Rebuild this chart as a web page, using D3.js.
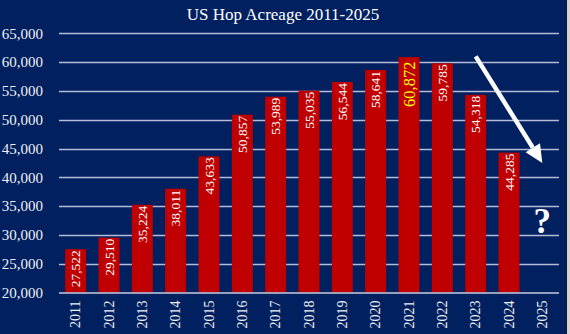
<!DOCTYPE html>
<html><head><meta charset="utf-8">
<script src="https://cdn.jsdelivr.net/npm/d3@7"></script>
<style>body{margin:0;background:#002060;}svg{display:block;}</style>
</head><body>
<svg id="c" width="570" height="334"></svg>
<script>
const years = ["2011","2012","2013","2014","2015","2016","2017","2018","2019","2020","2021","2022","2023","2024","2025"];
const acres = [27522,29510,35224,38011,43633,50857,53989,55035,56544,58641,60872,59785,54318,44285,null];
const labels = ["27,522","29,510","35,224","38,011","43,633","50,857","53,989","55,035","56,544","58,641","60,872","59,785","54,318","44,285",""];
const yTicks = [20000,25000,30000,35000,40000,45000,50000,55000,60000,65000];
const highlightYear = "2021";
const arrowFrom = {year:"2023", value:61000};
const arrowTo = {year:"2025", value:42500};
const title = "US Hop Acreage 2011-2025";

const svg = d3.select("#c");
const W = 570, H = 334;
const m = {left:59, right:11, top:33.3, bottom:41.5};
svg.append("rect").attr("width",W).attr("height",H).attr("fill","#002060");
// right-edge strip
svg.append("rect").attr("x",566.5).attr("y",0).attr("width",4).attr("height",H).attr("fill","#d4d4d4");
svg.append("line").attr("x1",566.5).attr("x2",566.5).attr("y1",0).attr("y2",H).attr("stroke","#1a1a1a").attr("stroke-width",1);

const x = d3.scaleBand().domain(years).range([m.left, W-m.right]).paddingInner(0.37).paddingOuter(0.185);
const y = d3.scaleLinear().domain([20000,65000]).range([H-m.bottom, m.top]);
const serif = "'Liberation Serif','Times New Roman',serif";

// gridlines
svg.append("g").selectAll("line").data(yTicks.slice(1)).join("line")
  .attr("x1",m.left).attr("x2",W-m.right)
  .attr("y1",d=>Math.round(y(d))+0.5).attr("y2",d=>Math.round(y(d))+0.5)
  .attr("stroke","#b4bcd6").attr("stroke-width",1.3);

// y axis
const ya = svg.append("g").attr("transform",`translate(${m.left},0)`)
  .call(d3.axisLeft(y).tickValues(yTicks).tickSize(0).tickPadding(16).tickFormat(d3.format(",")));
ya.select(".domain").remove();
ya.selectAll("text").attr("font-family",serif).attr("font-size",15).attr("fill","#f0f0f4");

// bars
const bd = years.map((yr,i)=>({yr, v:acres[i], lab:labels[i]})).filter(d=>d.v!=null);
svg.append("g").selectAll("rect").data(bd).join("rect")
  .attr("x",d=>x(d.yr)).attr("width",x.bandwidth())
  .attr("y",d=>y(d.v)).attr("height",d=>y(20000)-y(d.v))
  .attr("fill","#c00000");

// baseline
svg.append("line").attr("x1",m.left).attr("x2",W-m.right)
  .attr("y1",y(20000)+0.5).attr("y2",y(20000)+0.5).attr("stroke","#c8cde0").attr("stroke-width",1.3);

// x axis
const xa = svg.append("g").attr("transform",`translate(0,${y(20000)})`)
  .call(d3.axisBottom(x).tickSize(0).tickPadding(0));
xa.select(".domain").remove();
xa.selectAll("text").attr("font-family",serif).attr("font-size",14).attr("fill","#f0f0f4")
  .attr("text-anchor","end").attr("dy",null).attr("y",0)
  .attr("transform","translate(0,8) rotate(-90)").attr("dominant-baseline","central");

// value labels
svg.append("g").selectAll("text").data(bd).join("text")
  .attr("transform",d=>`translate(${x(d.yr)+x.bandwidth()/2},${y(d.v)+(d.yr===highlightYear?4.5:1)}) rotate(-90)`)
  .attr("text-anchor","end").attr("dominant-baseline","central")
  .attr("font-family",serif)
  .attr("font-size",d=>d.yr===highlightYear?16.5:13.5)
  .attr("fill",d=>d.yr===highlightYear?"#ffff00":"#ffffff")
  .text(d=>d.lab);

// title
svg.append("text").attr("x",283).attr("y",20).attr("text-anchor","middle")
  .attr("font-family",serif).attr("font-size",17).attr("fill","#ffffff").text(title);

// arrow
const cx = yr => x(yr)+x.bandwidth()/2;
const x1 = cx(arrowFrom.year), y1 = y(arrowFrom.value), x2 = cx(arrowTo.year), y2 = y(arrowTo.value);
const ang = Math.atan2(y2-y1, x2-x1);
const headL = 18, headW = 8.5;
const bx = x2 - headL*Math.cos(ang), by = y2 - headL*Math.sin(ang);
svg.append("line").attr("x1",x1).attr("y1",y1).attr("x2",bx).attr("y2",by)
  .attr("stroke","#ffffff").attr("stroke-width",4.5);
const px = -Math.sin(ang), py = Math.cos(ang);
svg.append("path").attr("d",`M${x2},${y2}L${bx+px*headW},${by+py*headW}L${bx-px*headW},${by-py*headW}Z`)
  .attr("fill","#ffffff");

// question mark
svg.append("text").attr("x",cx("2025")).attr("y",233).attr("text-anchor","middle")
  .attr("font-family",serif).attr("font-weight","bold").attr("font-size",35).attr("fill","#ffffff").text("?");
</script>
</body></html>
